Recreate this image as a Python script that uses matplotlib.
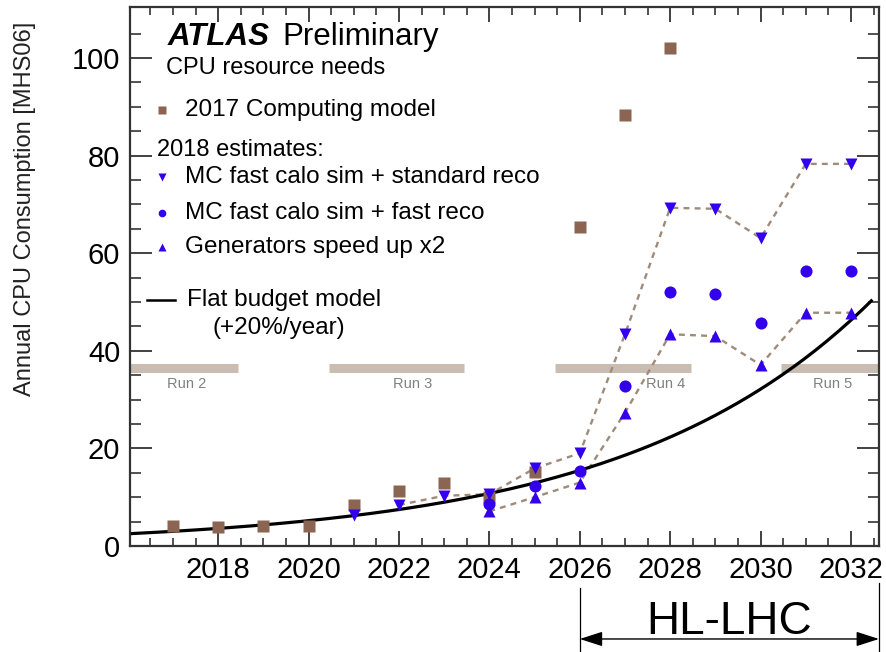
import numpy as np
import matplotlib.pyplot as plt

plt.rcParams['font.family'] = ['Liberation Sans', 'DejaVu Sans']

# ---- data ----
cm_years = [2017, 2018, 2019, 2020, 2021, 2022, 2023, 2024, 2025, 2026, 2027, 2028]
cm_cpu = [4.1, 3.9, 4.2, 4.1, 8.4, 11.3, 13.0, 10.0, 15.2, 65.3, 88.3, 102.0]

std_years = [2021, 2022, 2023, 2024, 2025, 2026, 2027, 2028, 2029, 2030, 2031, 2032]
std_cpu = [6.4, 8.4, 10.3, 10.6, 15.9, 19.0, 43.4, 69.3, 69.1, 63.1, 78.3, 78.3]

fast_years = [2024, 2025, 2026, 2027, 2028, 2029, 2030, 2031, 2032]
fast_cpu = [8.7, 12.3, 15.3, 32.7, 52.0, 51.7, 45.6, 56.3, 56.3]

gen_years = [2024, 2025, 2026, 2027, 2028, 2029, 2030, 2031, 2032]
gen_cpu = [7.1, 10.0, 13.0, 27.3, 43.4, 43.0, 37.1, 47.8, 47.8]

# flat budget model: +20%/year
budget_ref_year = 2026
budget_ref_cpu = 15.5
budget_growth = 0.20
budget_range = (2016.1, 2032.45)

run_names = ['Run 2', 'Run 3', 'Run 4', 'Run 5']
run_start = [2015.5, 2020.45, 2025.45, 2030.45]
run_end = [2018.45, 2023.45, 2028.45, 2033.5]
run_label_x = [2017.3, 2022.3, 2027.9, 2031.6]
run_level = 36.5

blue = '#3300ee'
brown = '#8b6452'
dash_col = '#a08a7a'

fig = plt.figure(figsize=(8.87, 6.52), dpi=100)
ax = fig.add_axes([130 / 887, 1 - 546 / 652, 749 / 887, 539 / 652])

# run periods
ax.hlines([run_level] * len(run_names), run_start, run_end, colors='#c9bdb2',
          linewidth=6.5, zorder=1)
for name, x in zip(run_names, run_label_x):
    ax.text(x, run_level - 3.4, name, ha='center', va='center', fontsize=10.5,
            color='#808080', zorder=1)

# flat budget curve
xb = np.linspace(budget_range[0], budget_range[1], 200)
yb = budget_ref_cpu * (1 + budget_growth) ** (xb - budget_ref_year)
ax.plot(xb, yb, color='black', lw=2.3, zorder=3)

# dashed connections
ax.plot(std_years[1:], std_cpu[1:], ls=(0, (2.5, 2.2)), color=dash_col, lw=1.7, zorder=2)
ax.plot(gen_years, gen_cpu, ls=(0, (2.5, 2.2)), color=dash_col, lw=1.7, zorder=2)

# markers
ax.plot(cm_years, cm_cpu, 's', color=brown, ms=9.3, zorder=4, mec='none')
ax.plot(std_years, std_cpu, 'v', color=blue, ms=8, zorder=5, mec='none')
ax.plot(fast_years, fast_cpu, 'o', color=blue, ms=8.7, zorder=5, mec='none')
ax.plot(gen_years, gen_cpu, '^', color=blue, ms=8, zorder=5, mec='none')

ax.set_xlim(2016.05, 2032.62)
ax.set_ylim(0, 110.45)
ax.set_xticks(np.arange(2018, 2033, 2))
ax.set_xticks(np.arange(2016.5, 2032.6, 0.5), minor=True)
ax.set_yticks(np.arange(0, 101, 20))
ax.set_yticks(np.arange(0, 110, 5), minor=True)
ax.tick_params(which='both', direction='in', top=True, right=True,
               labelsize=21, pad=7, color='#333333')
ax.tick_params(axis='x', which='major', length=11, width=1.3)
ax.tick_params(axis='x', which='minor', length=6, width=1.2)
ax.tick_params(axis='y', which='major', length=16, width=1.3)
ax.tick_params(axis='y', which='minor', length=8, width=1.2)
for s in ax.spines.values():
    s.set_linewidth(1.6)
    s.set_color('#333333')

ax.set_ylabel('Annual CPU Consumption [MHS06]', fontsize=17, color='#222222')
ax.yaxis.set_label_coords(-0.125, 0.625)

# legend block (manual, ROOT style)
def axp(px, py):
    return (px - 130) / 749, (546 - py) / 539

tr = ax.transAxes
ax.text(*axp(168, 37), 'ATLAS', transform=tr, fontsize=22.5, fontweight='bold',
        fontstyle='italic', va='center', ha='left')
ax.text(*axp(282, 37), 'Preliminary', transform=tr, fontsize=22.5, va='center', ha='left')
ax.text(*axp(166, 68), 'CPU resource needs', transform=tr, fontsize=17, va='center', ha='left')

ax.plot(*axp(162, 110), 's', color=brown, ms=6, mec='none', transform=tr)
ax.text(*axp(185, 110), '2017 Computing model', transform=tr, fontsize=17.5,
        va='center', ha='left')
ax.text(*axp(157, 150), '2018 estimates:', transform=tr, fontsize=17, va='center', ha='left')
legend_rows = [('v', 177, 'MC fast calo sim + standard reco'),
               ('o', 213, 'MC fast calo sim + fast reco'),
               ('^', 247, 'Generators speed up x2')]
for mk, py, label in legend_rows:
    ax.plot(*axp(162, py), mk, color=blue, ms=5.5, mec='none', transform=tr)
    ax.text(*axp(185, py), label, transform=tr, fontsize=17.5, va='center', ha='left')
x0, yl = axp(147, 300)
x1, _ = axp(175, 300)
ax.plot([x0, x1], [yl, yl], color='black', lw=1.8, transform=tr)
ax.text(*axp(187, 300), 'Flat budget model', transform=tr, fontsize=17.5, va='center', ha='left')
ax.text(*axp(213, 328), '(+20%/year)', transform=tr, fontsize=17.5, va='center', ha='left')

# HL-LHC span below the axis
xt = ax.get_xaxis_transform()
hl_start, hl_end = 2026, 2032.62
ax.plot([hl_start, hl_start], [-0.078, -0.2], color='black', lw=0.9, transform=xt, clip_on=False)
ax.plot([hl_end, hl_end], [-0.068, -0.2], color='black', lw=0.9, transform=xt, clip_on=False)
ax.annotate('', xy=(hl_end, -0.1725), xytext=(hl_start, -0.1725), xycoords=xt,
            textcoords=xt, arrowprops=dict(arrowstyle='<|-|>,head_length=1.4,head_width=0.45',
                                           color='black', lw=1.0, shrinkA=0, shrinkB=0))
ax.text((hl_start + hl_end) / 2, -0.141, 'HL-LHC', transform=xt, fontsize=33,
        ha='center', va='center')

fig.savefig('out.png', dpi=100)
